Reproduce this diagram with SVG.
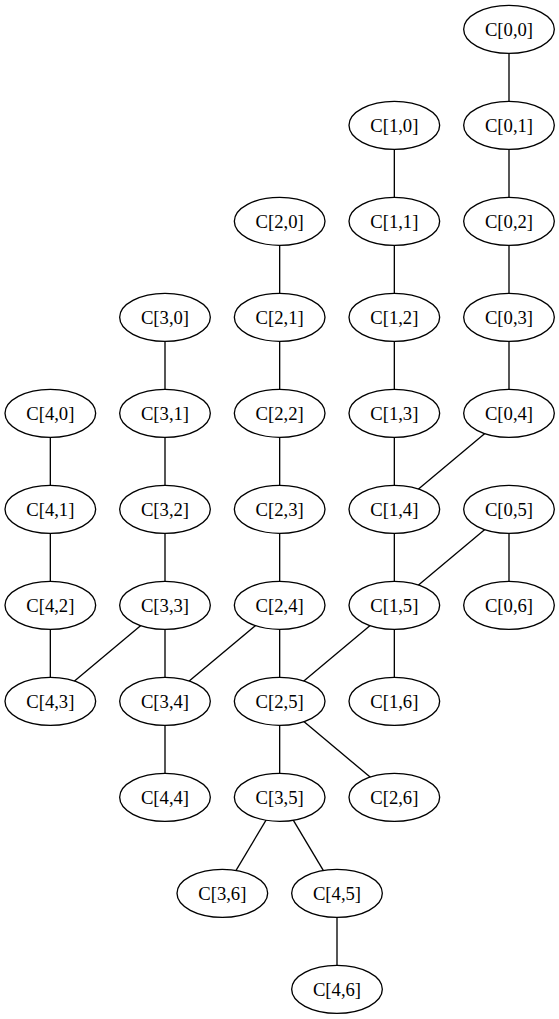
<svg xmlns="http://www.w3.org/2000/svg" width="559" height="1019" viewBox="0 0 559 1019">
<style>
.n ellipse{fill:#fff;stroke:#000;stroke-width:1.33}
.n text{font-family:"Liberation Serif","Times New Roman",serif;font-size:18.67px;text-anchor:middle;fill:#000}
#edges line{stroke:#000;stroke-width:1.33}
</style>
<rect width="559" height="1019" fill="#fff"/>
<g id="edges">
<line x1="509" y1="29.33" x2="509" y2="125.33"/>
<line x1="509" y1="125.33" x2="509" y2="221.33"/>
<line x1="509" y1="221.33" x2="509" y2="317.33"/>
<line x1="509" y1="317.33" x2="509" y2="413.33"/>
<line x1="509" y1="413.33" x2="394.33" y2="509.33"/>
<line x1="509" y1="509.33" x2="394.33" y2="605.33"/>
<line x1="509" y1="509.33" x2="509" y2="605.33"/>
<line x1="394.33" y1="125.33" x2="394.33" y2="221.33"/>
<line x1="394.33" y1="221.33" x2="394.33" y2="317.33"/>
<line x1="394.33" y1="317.33" x2="394.33" y2="413.33"/>
<line x1="394.33" y1="413.33" x2="394.33" y2="509.33"/>
<line x1="394.33" y1="509.33" x2="394.33" y2="605.33"/>
<line x1="394.33" y1="605.33" x2="279.67" y2="701.33"/>
<line x1="394.33" y1="605.33" x2="394.33" y2="701.33"/>
<line x1="279.67" y1="221.33" x2="279.67" y2="317.33"/>
<line x1="279.67" y1="317.33" x2="279.67" y2="413.33"/>
<line x1="279.67" y1="413.33" x2="279.67" y2="509.33"/>
<line x1="279.67" y1="509.33" x2="279.67" y2="605.33"/>
<line x1="279.67" y1="605.33" x2="165" y2="701.33"/>
<line x1="279.67" y1="605.33" x2="279.67" y2="701.33"/>
<line x1="279.67" y1="701.33" x2="279.67" y2="797.33"/>
<line x1="279.67" y1="701.33" x2="394.33" y2="797.33"/>
<line x1="165" y1="317.33" x2="165" y2="413.33"/>
<line x1="165" y1="413.33" x2="165" y2="509.33"/>
<line x1="165" y1="509.33" x2="165" y2="605.33"/>
<line x1="165" y1="605.33" x2="50.33" y2="701.33"/>
<line x1="165" y1="605.33" x2="165" y2="701.33"/>
<line x1="165" y1="701.33" x2="165" y2="797.33"/>
<line x1="50.33" y1="413.33" x2="50.33" y2="509.33"/>
<line x1="50.33" y1="509.33" x2="50.33" y2="605.33"/>
<line x1="50.33" y1="605.33" x2="50.33" y2="701.33"/>
<line x1="279.67" y1="797.33" x2="222.33" y2="893.33"/>
<line x1="279.67" y1="797.33" x2="337" y2="893.33"/>
<line x1="337" y1="893.33" x2="337" y2="989.33"/>
</g>
<g id="C00" class="n"><ellipse cx="509" cy="29.33" rx="45.33" ry="24"/><text x="509" y="35.8">C[0,0]</text></g>
<g id="C01" class="n"><ellipse cx="509" cy="125.33" rx="45.33" ry="24"/><text x="509" y="131.8">C[0,1]</text></g>
<g id="C02" class="n"><ellipse cx="509" cy="221.33" rx="45.33" ry="24"/><text x="509" y="227.8">C[0,2]</text></g>
<g id="C03" class="n"><ellipse cx="509" cy="317.33" rx="45.33" ry="24"/><text x="509" y="323.8">C[0,3]</text></g>
<g id="C04" class="n"><ellipse cx="509" cy="413.33" rx="45.33" ry="24"/><text x="509" y="419.8">C[0,4]</text></g>
<g id="C05" class="n"><ellipse cx="509" cy="509.33" rx="45.33" ry="24"/><text x="509" y="515.8">C[0,5]</text></g>
<g id="C06" class="n"><ellipse cx="509" cy="605.33" rx="45.33" ry="24"/><text x="509" y="611.8">C[0,6]</text></g>
<g id="C10" class="n"><ellipse cx="394.33" cy="125.33" rx="45.33" ry="24"/><text x="394.33" y="131.8">C[1,0]</text></g>
<g id="C11" class="n"><ellipse cx="394.33" cy="221.33" rx="45.33" ry="24"/><text x="394.33" y="227.8">C[1,1]</text></g>
<g id="C12" class="n"><ellipse cx="394.33" cy="317.33" rx="45.33" ry="24"/><text x="394.33" y="323.8">C[1,2]</text></g>
<g id="C13" class="n"><ellipse cx="394.33" cy="413.33" rx="45.33" ry="24"/><text x="394.33" y="419.8">C[1,3]</text></g>
<g id="C14" class="n"><ellipse cx="394.33" cy="509.33" rx="45.33" ry="24"/><text x="394.33" y="515.8">C[1,4]</text></g>
<g id="C15" class="n"><ellipse cx="394.33" cy="605.33" rx="45.33" ry="24"/><text x="394.33" y="611.8">C[1,5]</text></g>
<g id="C16" class="n"><ellipse cx="394.33" cy="701.33" rx="45.33" ry="24"/><text x="394.33" y="707.8">C[1,6]</text></g>
<g id="C20" class="n"><ellipse cx="279.67" cy="221.33" rx="45.33" ry="24"/><text x="279.67" y="227.8">C[2,0]</text></g>
<g id="C21" class="n"><ellipse cx="279.67" cy="317.33" rx="45.33" ry="24"/><text x="279.67" y="323.8">C[2,1]</text></g>
<g id="C22" class="n"><ellipse cx="279.67" cy="413.33" rx="45.33" ry="24"/><text x="279.67" y="419.8">C[2,2]</text></g>
<g id="C23" class="n"><ellipse cx="279.67" cy="509.33" rx="45.33" ry="24"/><text x="279.67" y="515.8">C[2,3]</text></g>
<g id="C24" class="n"><ellipse cx="279.67" cy="605.33" rx="45.33" ry="24"/><text x="279.67" y="611.8">C[2,4]</text></g>
<g id="C25" class="n"><ellipse cx="279.67" cy="701.33" rx="45.33" ry="24"/><text x="279.67" y="707.8">C[2,5]</text></g>
<g id="C26" class="n"><ellipse cx="394.33" cy="797.33" rx="45.33" ry="24"/><text x="394.33" y="803.8">C[2,6]</text></g>
<g id="C30" class="n"><ellipse cx="165" cy="317.33" rx="45.33" ry="24"/><text x="165" y="323.8">C[3,0]</text></g>
<g id="C31" class="n"><ellipse cx="165" cy="413.33" rx="45.33" ry="24"/><text x="165" y="419.8">C[3,1]</text></g>
<g id="C32" class="n"><ellipse cx="165" cy="509.33" rx="45.33" ry="24"/><text x="165" y="515.8">C[3,2]</text></g>
<g id="C33" class="n"><ellipse cx="165" cy="605.33" rx="45.33" ry="24"/><text x="165" y="611.8">C[3,3]</text></g>
<g id="C34" class="n"><ellipse cx="165" cy="701.33" rx="45.33" ry="24"/><text x="165" y="707.8">C[3,4]</text></g>
<g id="C35" class="n"><ellipse cx="279.67" cy="797.33" rx="45.33" ry="24"/><text x="279.67" y="803.8">C[3,5]</text></g>
<g id="C36" class="n"><ellipse cx="222.33" cy="893.33" rx="45.33" ry="24"/><text x="222.33" y="899.8">C[3,6]</text></g>
<g id="C40" class="n"><ellipse cx="50.33" cy="413.33" rx="45.33" ry="24"/><text x="50.33" y="419.8">C[4,0]</text></g>
<g id="C41" class="n"><ellipse cx="50.33" cy="509.33" rx="45.33" ry="24"/><text x="50.33" y="515.8">C[4,1]</text></g>
<g id="C42" class="n"><ellipse cx="50.33" cy="605.33" rx="45.33" ry="24"/><text x="50.33" y="611.8">C[4,2]</text></g>
<g id="C43" class="n"><ellipse cx="50.33" cy="701.33" rx="45.33" ry="24"/><text x="50.33" y="707.8">C[4,3]</text></g>
<g id="C44" class="n"><ellipse cx="165" cy="797.33" rx="45.33" ry="24"/><text x="165" y="803.8">C[4,4]</text></g>
<g id="C45" class="n"><ellipse cx="337" cy="893.33" rx="45.33" ry="24"/><text x="337" y="899.8">C[4,5]</text></g>
<g id="C46" class="n"><ellipse cx="337" cy="989.33" rx="45.33" ry="24"/><text x="337" y="995.8">C[4,6]</text></g>
</svg>
